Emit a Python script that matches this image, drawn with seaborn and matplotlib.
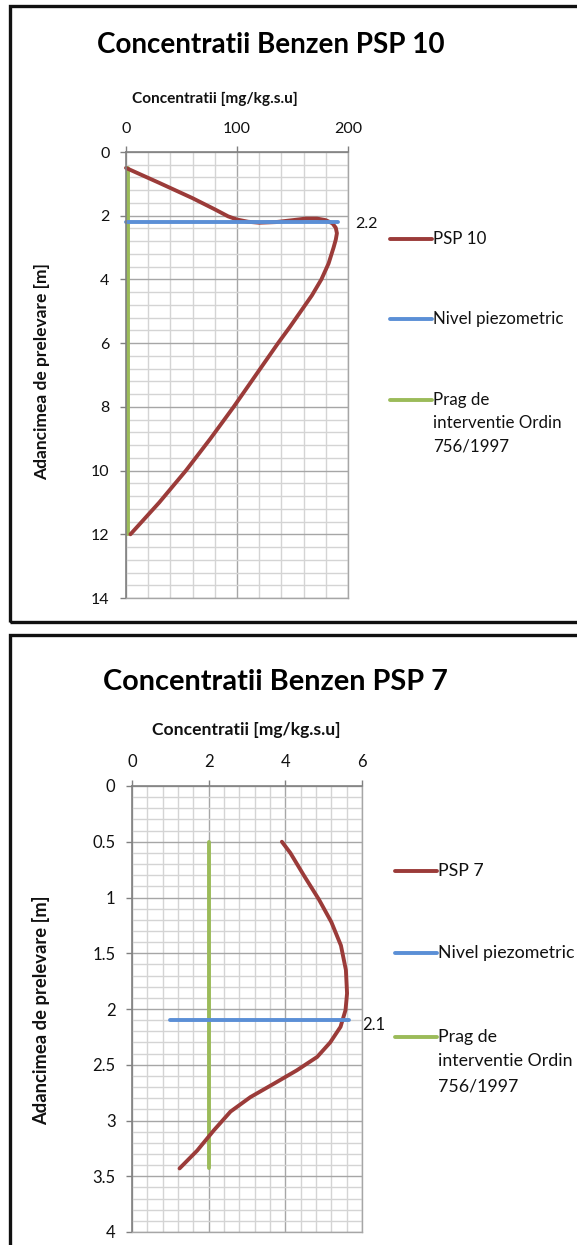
import matplotlib
matplotlib.use("Agg")
import matplotlib.pyplot as plt
import seaborn as sns
import pandas as pd
from matplotlib.patches import Rectangle
from matplotlib.lines import Line2D
from matplotlib.ticker import MultipleLocator, FuncFormatter

# ---------------- data ----------------
psp10_conc = [0, 30, 60, 80, 92, 100, 110, 120, 135, 150, 162, 172, 180, 186, 189, 190,
              189, 187, 182.5, 176, 167.5, 157.5, 147.5, 137, 117, 97, 76, 54, 30, 4]
psp10_depth = [0.5, 0.97, 1.45, 1.8, 2.02, 2.12, 2.19, 2.22, 2.2, 2.14, 2.09, 2.09, 2.14,
               2.24, 2.38, 2.55, 2.75, 3.0, 3.5, 4.0, 4.5, 5.0, 5.5, 6.0, 7.0, 8.0,
               9.0, 10.0, 11.0, 12.0]
piezo10_conc = [0, 191]
piezo10_depth = [2.2, 2.2]
prag10_conc = [2, 2]
prag10_depth = [0.5, 12]

psp7_conc = [3.91, 4.13, 4.48, 4.88, 5.2, 5.45, 5.58, 5.61, 5.57, 5.44, 5.17,
             4.83, 4.30, 3.70, 3.09, 2.57, 2.13, 1.70, 1.24]
psp7_depth = [0.5, 0.6, 0.8, 1.02, 1.22, 1.43, 1.65, 1.86, 2.01, 2.16, 2.3,
              2.43, 2.55, 2.67, 2.79, 2.92, 3.09, 3.27, 3.43]
piezo7_conc = [1.0, 5.65]
piezo7_depth = [2.1, 2.1]
prag7_conc = [2, 2]
prag7_depth = [0.5, 3.43]

titles = ["Concentratii Benzen PSP 10", "Concentratii Benzen PSP 7"]
series_names = [["PSP 10", "Nivel piezometric", "Prag de\ninterventie Ordin\n756/1997"],
                ["PSP 7", "Nivel piezometric", "Prag de\ninterventie Ordin\n756/1997"]]
xlabel = "Concentratii [mg/kg.s.u]"
ylabel = "Adancimea de prelevare [m]"
piezo_labels = ["2.2", "2.1"]

C_RED = "#9B3B39"
C_BLUE = "#5B8FD6"
C_GREEN = "#9BBB59"
TXT = "#111111"

sns.set_theme(style="white")
plt.rcParams['font.family'] = ['Lato', 'DejaVu Sans']

W, H = 577, 1245
fig = plt.figure(figsize=(W / 100, H / 100), dpi=100)


def fx(px):
    return px / W


def fy(py):
    return 1 - py / H


# frames
for (x0, y0, x1, y1) in [(10, 6, 640, 622), (10, 635, 640, 1300)]:
    fig.patches.append(Rectangle((fx(x0), fy(y1)), fx(x1) - fx(x0), fy(y0) - fy(y1),
                                 transform=fig.transFigure, fill=False,
                                 edgecolor="#111111", lw=2.4, clip_on=False))

fmt = FuncFormatter(lambda v, p: f"{v:g}")


def make_axes(rect, xmax, ymax, xmaj, xmin, ymaj, ymin, fs):
    l, t, r, b = rect
    ax = fig.add_axes([fx(l), fy(b), fx(r) - fx(l), fy(t) - fy(b)])
    ax.set_xlim(0, xmax)
    ax.set_ylim(ymax, 0)
    ax.xaxis.tick_top()
    ax.xaxis.set_label_position('top')
    ax.xaxis.set_major_locator(MultipleLocator(xmaj))
    ax.xaxis.set_minor_locator(MultipleLocator(xmin))
    ax.yaxis.set_major_locator(MultipleLocator(ymaj))
    ax.yaxis.set_minor_locator(MultipleLocator(ymin))
    ax.xaxis.set_major_formatter(fmt)
    ax.yaxis.set_major_formatter(fmt)
    ax.grid(which='major', color='#A6A6A6', lw=1.0)
    ax.grid(which='minor', color='#D4D4D4', lw=1.0)
    ax.set_axisbelow(True)
    for s in ['left', 'top']:
        ax.spines[s].set_color('#808080')
        ax.spines[s].set_linewidth(1.2)
        ax.spines[s].set_visible(True)
    for s in ['right', 'bottom']:
        ax.spines[s].set_color('#A6A6A6')
        ax.spines[s].set_linewidth(1.0)
        ax.spines[s].set_visible(True)
    ax.tick_params(which='major', direction='out', length=4.3, width=1, color='#808080',
                   labelsize=fs, labelcolor=TXT, pad=7.5,
                   top=True, bottom=False, left=True, right=False,
                   labeltop=True, labelbottom=False)
    ax.tick_params(which='minor', length=0)
    return ax


def draw_chart(ax, conc, depth, pconc, pdepth, gconc, gdepth, lw):
    sns.lineplot(x=gconc, y=gdepth, ax=ax, color=C_GREEN, linewidth=lw, sort=False,
                 estimator=None, legend=False)
    sns.lineplot(x=conc, y=depth, ax=ax, color=C_RED, linewidth=lw, sort=False,
                 estimator=None, legend=False)
    sns.lineplot(x=pconc, y=pdepth, ax=ax, color=C_BLUE, linewidth=lw, sort=False,
                 estimator=None, legend=False)
    for ln in ax.lines:
        ln.set_solid_capstyle('round')
        ln.set_solid_joinstyle('round')
        ln.set_clip_on(False)


# ---- top chart ----
ax1 = make_axes((126, 152, 348, 598), 200, 14, 100, 20, 2, 0.4, 11.5)
draw_chart(ax1, psp10_conc, psp10_depth, piezo10_conc, piezo10_depth,
           prag10_conc, prag10_depth, 2.8)
ax1.set_xlabel(xlabel, fontweight='bold', fontsize=11.1, color=TXT)
ax1.xaxis.set_label_coords((215 - 126) / 222, (598 - 103) / 446)
ax1.set_ylabel(ylabel, fontweight='bold', fontsize=12.5, color=TXT)
ax1.yaxis.set_label_coords((50 - 126) / 222, (598 - 372) / 446)
ax1.annotate(piezo_labels[0], xy=(piezo10_conc[-1], piezo10_depth[-1]),
             xytext=(17, -2), textcoords='offset pixels', va='center', ha='left',
             fontsize=11.5, color=TXT, annotation_clip=False)
fig.text(fx(271), fy(45), titles[0], ha='center', va='center', fontsize=20,
         fontweight='bold', color='#000000')

# ---- bottom chart ----
ax2 = make_axes((132, 786, 362, 1232), 6, 4, 2, 0.4, 0.5, 0.1, 12)
draw_chart(ax2, psp7_conc, psp7_depth, piezo7_conc, piezo7_depth,
           prag7_conc, prag7_depth, 2.8)
ax2.set_xlabel(xlabel, fontweight='bold', fontsize=12.6, color=TXT)
ax2.xaxis.set_label_coords((246 - 132) / 230, (1232 - 735) / 446)
ax2.set_ylabel(ylabel, fontweight='bold', fontsize=13.2, color=TXT)
ax2.yaxis.set_label_coords((50 - 132) / 230, (1232 - 1010) / 446)
ax2.annotate(piezo_labels[1], xy=(piezo7_conc[-1], piezo7_depth[-1]),
             xytext=(14, -5), textcoords='offset pixels', va='center', ha='left',
             fontsize=12, color=TXT, annotation_clip=False)
fig.text(fx(275), fy(682), titles[1], ha='center', va='center', fontsize=20.8,
         fontweight='bold', color='#000000')

# ---- legends (manual, Excel-style) ----
colors = [C_RED, C_BLUE, C_GREEN]
leg_specs = [
    (390, 432, [239, 319, 400], 12.2, 23.5, series_names[0]),
    (395, 437, [871, 953, 1037], 12.8, 24.5, series_names[1]),
]
for x0, x1, ys, fs, step, names in leg_specs:
    for c, yy, name in zip(colors, ys, names):
        fig.add_artist(Line2D([fx(x0), fx(x1)], [fy(yy), fy(yy)], color=c, lw=2.8,
                              transform=fig.transFigure, solid_capstyle='round'))
        for k, part in enumerate(name.split('\n')):
            fig.text(fx(x1 + 1), fy(yy + k * step), part, ha='left', va='center',
                     fontsize=fs, color=TXT)

fig.savefig("out.png", dpi=100)
